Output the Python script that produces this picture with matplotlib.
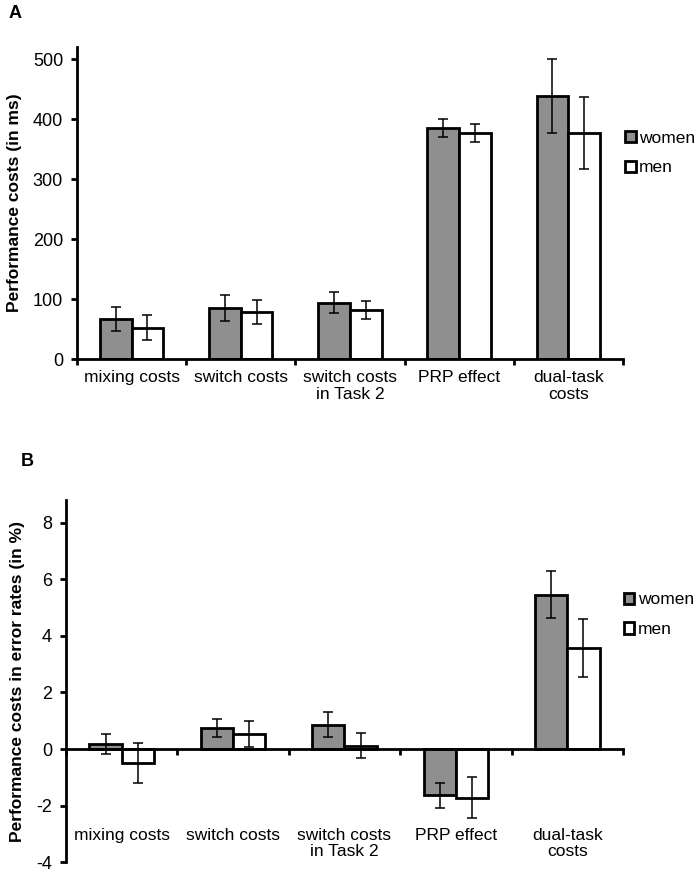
import matplotlib
matplotlib.use("Agg")
import matplotlib.pyplot as plt
import numpy as np
from matplotlib.patches import Patch
from matplotlib.transforms import blended_transform_factory

plt.rcParams['font.family'] = ['Liberation Sans', 'DejaVu Sans']

categories = ["mixing costs", "switch costs", "switch costs\nin Task 2", "PRP effect", "dual-task\ncosts"]
series = ["women", "men"]

rt_women = [67, 85, 94, 385, 438]
rt_men = [52, 78, 81, 377, 377]
rt_women_err = [20, 21, 17, 15, 62]
rt_men_err = [21, 20, 15, 15, 60]

er_women = [0.17, 0.75, 0.86, -1.64, 5.45]
er_men = [-0.5, 0.53, 0.12, -1.72, 3.57]
er_women_err = [0.35, 0.31, 0.45, 0.44, 0.83]
er_men_err = [0.71, 0.47, 0.45, 0.72, 1.02]

rt_ticks = [0, 100, 200, 300, 400, 500]
er_ticks = [-4, -2, 0, 2, 4, 6, 8]

colors = ["#8f8f8f", "#ffffff"]

fig = plt.figure(figsize=(6.96, 8.74), dpi=100)
axA = fig.add_axes([0.1106, 0.5892, 0.7844, 0.3570])
axB = fig.add_axes([0.0948, 0.0135, 0.8002, 0.4144])

def draw(ax, women, men, werr, merr, ylim, yticks, ylabel, label_y):
    x = np.arange(len(categories))
    w = 0.29
    for vals, errs, off, c in [(women, werr, -w / 2, colors[0]), (men, merr, w / 2, colors[1])]:
        ax.bar(x + off, vals, width=w, color=c, edgecolor="black", linewidth=2.0, zorder=2)
        ax.errorbar(x + off, vals, yerr=errs, fmt="none", ecolor="black", elinewidth=1.1,
                    capsize=3.5, capthick=1.1, zorder=3)
    ax.set_xlim(-0.5, len(categories) - 0.5)
    ax.set_ylim(*ylim)
    ax.set_yticks(yticks)
    ax.set_yticklabels([str(t) for t in yticks], fontsize=13)
    ax.set_xticks(np.arange(len(categories) + 1) - 0.5)
    ax.set_xticklabels([])
    ax.spines["top"].set_visible(False)
    ax.spines["right"].set_visible(False)
    for s in ["left", "bottom"]:
        ax.spines[s].set_linewidth(2.0)
    ax.tick_params(axis="y", direction="out", length=4, width=2, pad=6)
    ax.tick_params(axis="x", direction="out", length=4, width=2)
    ax.set_ylabel(ylabel, fontsize=12.5, fontweight="bold", labelpad=8)
    trans = blended_transform_factory(ax.transData, ax.transData)
    for i, cat in enumerate(categories):
        ax.text(i, label_y, cat, transform=trans, ha="center", va="top", fontsize=12.5,
                linespacing=1.15)
    handles = [Patch(facecolor=colors[0], edgecolor="black", linewidth=2.0),
               Patch(facecolor=colors[1], edgecolor="black", linewidth=2.0)]
    return handles

hA = draw(axA, rt_women, rt_men, rt_women_err, rt_men_err, (0, 520), rt_ticks,
          "Performance costs (in ms)", -19)
hB = draw(axB, er_women, er_men, er_women_err, er_men_err, (-4, 8.8), er_ticks,
          "Performance costs in error rates (in %)", -2.78)
axB.spines["bottom"].set_position(("data", 0))

legkw = dict(loc="upper left", frameon=False, fontsize=12.5, handlelength=0.6,
             handleheight=0.6, handletextpad=0.2, labelspacing=0.85,
             borderaxespad=0, borderpad=0)
axA.legend(hA, series, bbox_to_anchor=(1.004, 0.732), **legkw)
axB.legend(hB, series, bbox_to_anchor=(1.002, 0.745), **legkw)

fig.text(0.012, 0.985, "A", fontsize=13, fontweight="bold", va="center", ha="left")
fig.text(0.030, 0.472, "B", fontsize=13, fontweight="bold", va="center", ha="left")

fig.savefig("out.png", dpi=100)
